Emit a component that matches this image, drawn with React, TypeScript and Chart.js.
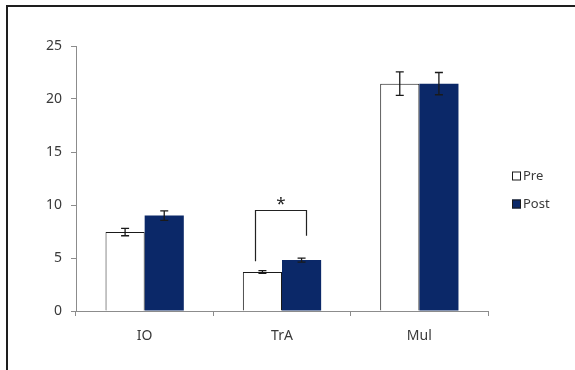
import { useEffect, useRef } from "react";
import { Chart, registerables } from "chart.js";

Chart.register(...registerables);

// Muscle measurements before and after the intervention
const categories = ["IO", "TrA", "Mul"];
const seriesNames = ["Pre", "Post"];
const preMeans = [7.45, 3.68, 21.45];
const preErrors = [0.35, 0.12, 1.1];
const postMeans = [9.0, 4.8, 21.45];
const postErrors = [0.45, 0.18, 1.05];
const yMin = 0;
const yMax = 25;
const yStep = 5;

// significance bracket over TrA (levels in data units)
const sigCategory = 1;
const sigLeftFoot = 4.7;
const sigRightFoot = 7.1;
const sigTop = 9.55;
const sigStarLevel = 10.4;
const sigLabel = "*";

const NAVY = "#0b2868";
const INK = "#1a1a1a";
const AXIS = "#8c8c8c";
const TEXT = "#3a3a3a";
const FONT = "'Noto Sans', 'DejaVu Sans', sans-serif";

const errorBars = {
  id: "errorBars",
  afterDatasetsDraw(chart: any) {
    const { ctx } = chart;
    const y = chart.scales.y;
    chart.data.datasets.forEach((ds: any, di: number) => {
      const meta = chart.getDatasetMeta(di);
      meta.data.forEach((bar: any, i: number) => {
        const v = ds.data[i];
        const e = ds.errors[i];
        const top = y.getPixelForValue(v + e);
        const bot = y.getPixelForValue(v - e);
        const cap = 4;
        ctx.save();
        ctx.strokeStyle = INK;
        ctx.lineWidth = 1.3;
        ctx.beginPath();
        ctx.moveTo(bar.x, top);
        ctx.lineTo(bar.x, bot);
        ctx.moveTo(bar.x - cap, top);
        ctx.lineTo(bar.x + cap, top);
        ctx.moveTo(bar.x - cap, bot);
        ctx.lineTo(bar.x + cap, bot);
        ctx.stroke();
        ctx.restore();
      });
    });
  },
};

const significance = {
  id: "significance",
  afterDatasetsDraw(chart: any) {
    const { ctx } = chart;
    const y = chart.scales.y;
    const preBar: any = chart.getDatasetMeta(0).data[sigCategory];
    const postBar: any = chart.getDatasetMeta(1).data[sigCategory];
    const xl = Math.round(preBar.x - preBar.width * 0.2) + 0.5;
    const xr = Math.round(postBar.x + postBar.width * 0.12) + 0.5;
    const yt = Math.round(y.getPixelForValue(sigTop)) + 0.5;
    ctx.save();
    ctx.strokeStyle = "#222";
    ctx.lineWidth = 1.2;
    ctx.beginPath();
    ctx.moveTo(xl, y.getPixelForValue(sigLeftFoot));
    ctx.lineTo(xl, yt);
    ctx.lineTo(xr, yt);
    ctx.lineTo(xr, y.getPixelForValue(sigRightFoot));
    ctx.stroke();
    ctx.fillStyle = "#222";
    ctx.font = `17px ${FONT}`;
    ctx.textAlign = "center";
    ctx.textBaseline = "middle";
    ctx.fillText(sigLabel, (xl + xr) / 2, y.getPixelForValue(sigStarLevel) + 3);
    ctx.restore();
  },
};

const sideLegend = {
  id: "sideLegend",
  afterDraw(chart: any) {
    const { ctx } = chart;
    const x0 = chart.chartArea.right + 24;
    const rows = [176, 204];
    ctx.save();
    chart.data.datasets.forEach((ds: any, i: number) => {
      const cy = rows[i];
      ctx.fillStyle = ds.backgroundColor;
      ctx.fillRect(x0, cy - 4.5, 9, 9);
      ctx.strokeStyle = INK;
      ctx.lineWidth = 1;
      ctx.strokeRect(x0 + 0.5, cy - 4, 8, 8);
      ctx.fillStyle = TEXT;
      ctx.font = `13px ${FONT}`;
      ctx.textAlign = "left";
      ctx.textBaseline = "middle";
      ctx.fillText(ds.label, x0 + 11, cy);
    });
    ctx.restore();
  },
};

export default function App() {
  const canvasRef = useRef<HTMLCanvasElement | null>(null);

  useEffect(() => {
    if (!canvasRef.current) return;
    const chart = new Chart(canvasRef.current, {
      type: "bar",
      data: {
        labels: categories,
        datasets: [
          {
            label: seriesNames[0],
            data: preMeans,
            errors: preErrors,
            backgroundColor: "#ffffff",
            borderColor: INK,
            borderWidth: { top: 1, left: 1, right: 1, bottom: 0 },
            borderSkipped: "bottom",
          } as any,
          {
            label: seriesNames[1],
            data: postMeans,
            errors: postErrors,
            backgroundColor: NAVY,
            borderWidth: 0,
          } as any,
        ],
      },
      options: {
        animation: false,
        responsive: false,
        maintainAspectRatio: false,
        devicePixelRatio: 1,
        layout: { padding: { left: 0, top: 46, right: 87, bottom: 0 } },
        plugins: {
          legend: { display: false },
          tooltip: { enabled: false },
        },
        datasets: {
          bar: { categoryPercentage: 0.57, barPercentage: 1 },
        },
        scales: {
          x: {
            afterFit: (s: any) => {
              s.height = 59;
            },
            grid: {
              display: true,
              drawOnChartArea: false,
              drawTicks: true,
              tickLength: 5,
              color: AXIS,
              offset: true,
            },
            border: { display: true, color: AXIS, width: 1 },
            ticks: {
              color: TEXT,
              font: { family: FONT, size: 14 },
              padding: 12,
            },
          },
          y: {
            min: yMin,
            max: yMax,
            afterFit: (s: any) => {
              s.width = 76;
            },
            grid: {
              display: true,
              drawOnChartArea: false,
              drawTicks: true,
              tickLength: 5,
              color: AXIS,
            },
            border: { display: true, color: AXIS, width: 1 },
            ticks: {
              stepSize: yStep,
              color: TEXT,
              font: { family: FONT, size: 14 },
              padding: 9,
            },
          },
        },
      },
      plugins: [errorBars, significance, sideLegend],
    });
    return () => chart.destroy();
  }, []);

  return (
    <div
      style={{
        position: "absolute",
        left: 0,
        top: 0,
        width: 575,
        height: 370,
        background: "#ffffff",
        overflow: "hidden",
      }}
    >
      <canvas ref={canvasRef} width={575} height={370} style={{ display: "block" }} />
      <div
        style={{
          position: "absolute",
          left: 6,
          top: 5,
          width: 600,
          height: 400,
          borderTop: "2px solid #1e1e1e",
          borderLeft: "2px solid #1e1e1e",
          pointerEvents: "none",
        }}
      />
    </div>
  );
}
